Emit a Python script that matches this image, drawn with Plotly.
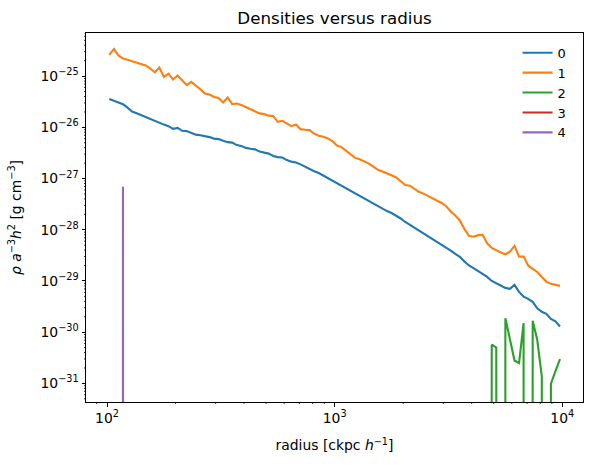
import plotly.graph_objects as go

# Radius bin centres [ckpc/h]
radius = [102.3, 107.2, 112.2, 117.5, 123.0, 128.8, 134.9, 141.3, 147.9, 154.9,
          162.2, 169.8, 177.8, 186.2, 195.0, 204.2, 213.8, 223.9, 234.4, 245.5,
          257.0, 269.2, 281.8, 295.1, 309.0, 323.6, 338.8, 354.8, 371.5, 389.0,
          407.4, 426.6, 446.7, 467.7, 489.8, 512.9, 537.0, 562.3, 588.8, 616.6,
          645.7, 676.1, 707.9, 741.3, 776.2, 812.8, 851.1, 891.3, 933.3, 977.2,
          1023, 1072, 1122, 1175, 1230, 1288, 1349, 1413, 1479, 1549,
          1622, 1698, 1778, 1862, 1950, 2042, 2138, 2239, 2344, 2455,
          2570, 2692, 2818, 2951, 3090, 3236, 3388, 3548, 3715, 3890,
          4074, 4266, 4467, 4677, 4898, 5129, 5370, 5623, 5888, 6166,
          6457, 6761, 7079, 7413, 7762, 8128, 8511, 8913, 9333, 9772]

dens0 = [3.58e-26, 3.30e-26, 3.03e-26, 2.83e-26, 2.42e-26, 2.04e-26, 1.89e-26, 1.73e-26, 1.58e-26, 1.42e-26,
         1.32e-26, 1.22e-26, 1.13e-26, 1.055e-26, 9.35e-27, 9.77e-27, 8.55e-27, 8.43e-27, 7.70e-27, 7.20e-27,
         6.98e-27, 6.80e-27, 6.44e-27, 6.02e-27, 5.89e-27, 5.45e-27, 5.14e-27, 5.03e-27, 4.50e-27, 4.34e-27,
         3.97e-27, 3.81e-27, 3.71e-27, 3.36e-27, 3.24e-27, 3.07e-27, 2.77e-27, 2.62e-27, 2.57e-27, 2.29e-27,
         2.14e-27, 2.05e-27, 1.89e-27, 1.69e-27, 1.53e-27, 1.39e-27, 1.28e-27, 1.14e-27, 1.02e-27, 9.22e-28,
         8.17e-28, 7.14e-28, 6.38e-28, 5.73e-28, 5.14e-28, 4.64e-28, 4.07e-28, 3.67e-28, 3.23e-28, 2.85e-28,
         2.54e-28, 2.32e-28, 2.12e-28, 1.90e-28, 1.66e-28, 1.42e-28, 1.25e-28, 1.11e-28, 9.56e-29, 8.28e-29,
         7.40e-29, 6.47e-29, 5.86e-29, 5.17e-29, 4.42e-29, 3.91e-29, 3.38e-29, 2.95e-29, 2.41e-29, 2.01e-29,
         1.78e-29, 1.57e-29, 1.37e-29, 1.20e-29, 1.00e-29, 8.98e-30, 8.02e-30, 7.33e-30, 7.01e-30, 8.39e-30,
         6.13e-30, 4.96e-30, 4.48e-30, 3.91e-30, 2.92e-30, 2.50e-30, 2.28e-30, 1.82e-30, 1.63e-30, 1.29e-30]

dens1 = [2.61e-25, 3.39e-25, 2.53e-25, 2.20e-25, 2.09e-25, 1.97e-25, 1.81e-25, 1.69e-25, 1.62e-25, 1.41e-25,
         1.19e-25, 1.47e-25, 9.65e-26, 1.12e-25, 8.58e-26, 1.03e-25, 8.13e-26, 6.65e-26, 7.70e-26, 6.65e-26,
         5.55e-26, 4.58e-26, 4.38e-26, 3.91e-26, 3.74e-26, 3.06e-26, 3.83e-26, 2.83e-26, 2.92e-26, 2.73e-26,
         2.48e-26, 2.31e-26, 2.12e-26, 1.87e-26, 1.81e-26, 1.69e-26, 1.67e-26, 1.28e-26, 1.34e-26, 1.21e-26,
         1.055e-26, 1.14e-26, 9.22e-27, 8.98e-27, 8.82e-27, 7.54e-27, 6.86e-27, 6.53e-27, 6.07e-27, 5.38e-27,
         4.40e-27, 4.11e-27, 3.51e-27, 2.94e-27, 2.53e-27, 2.38e-27, 2.16e-27, 1.96e-27, 1.71e-27, 1.48e-27,
         1.37e-27, 1.27e-27, 1.16e-27, 1.05e-27, 8.74e-28, 7.47e-28, 7.24e-28, 6.24e-28, 5.50e-28, 5.08e-28,
         4.60e-28, 4.13e-28, 3.78e-28, 3.33e-28, 2.88e-28, 2.27e-28, 1.90e-28, 1.52e-28, 1.04e-28, 7.64e-29,
         7.33e-29, 7.85e-29, 7.99e-29, 5.45e-29, 4.42e-29, 3.95e-29, 3.61e-29, 3.33e-29, 3.72e-29, 4.83e-29,
         2.99e-29, 2.99e-29, 2.01e-29, 1.72e-29, 1.50e-29, 1.20e-29, 9.73e-30, 8.78e-30, 8.28e-30, 8.02e-30]

dens2 = [0.0] * 84 + [5.7e-31, 5.0e-31, 0.0, 1.88e-30, 7.3e-31, 2.8e-31, 2.5e-31, 1.5e-30,
                      0.0, 1.67e-30, 7.1e-31, 1.37e-31, 0.0, 9.9e-32, 1.74e-31, 2.99e-31]

dens3 = [0.0] * 100

dens4 = [0.0] * 3 + [6.92e-28] + [0.0] * 96

series_names = ["0", "1", "2", "3", "4"]
series_vals = [dens0, dens1, dens2, dens3, dens4]
colors = ["#1f77b4", "#ff7f0e", "#2ca02c", "#d62728", "#9467bd"]

x_ticks = [1e2, 1e3, 1e4]
x_ticktext = ["10<sup>2</sup>", "10<sup>3</sup>", "10<sup>4</sup>"]
y_ticks = [1e-31, 1e-30, 1e-29, 1e-28, 1e-27, 1e-26, 1e-25]
y_ticktext = ["10<sup>\u221231</sup>", "10<sup>\u221230</sup>", "10<sup>\u221229</sup>",
              "10<sup>\u221228</sup>", "10<sup>\u221227</sup>", "10<sup>\u221226</sup>",
              "10<sup>\u221225</sup>"]

# minor tick positions (2..9 x each decade)
x_minor = [m * d for d in (1e1, 1e2, 1e3, 1e4) for m in range(2, 10)]
y_minor = [m * d for d in (1e-32, 1e-31, 1e-30, 1e-29, 1e-28, 1e-27, 1e-26, 1e-25) for m in range(2, 10)]

X_RANGE = [1.9076, 4.091]
Y_RANGE = [-31.363, -24.158]

W, H = 592, 467
ML, MR, MT, MB = 86, 9, 33, 65
PLOT_W = W - ML - MR
PLOT_H = H - MT - MB
MINOR_LEN = 2.0


def clip_nonpositive(vals):
    # mimic log-scale clipping of non-positive values (drawn off the bottom)
    return [v if v > 0 else 1e-300 for v in vals]


fig = go.Figure()
for name, vals, c in zip(series_names, series_vals, colors):
    fig.add_trace(go.Scatter(x=radius, y=clip_nonpositive(vals), mode="lines", name=name,
                             line=dict(color=c, width=2.1)))

# minor tick marks drawn as short shapes outside the plot frame
tick_line = dict(color="black", width=0.8)
for v in x_minor:
    fig.add_shape(type="line", xref="x", yref="paper", x0=v, x1=v,
                  y0=0, y1=-MINOR_LEN / PLOT_H, line=tick_line, layer="above")
for v in y_minor:
    fig.add_shape(type="line", xref="paper", yref="y", y0=v, y1=v,
                  x0=0, x1=-MINOR_LEN / PLOT_W, line=tick_line, layer="above")

font = "DejaVu Sans, Verdana, sans-serif"
axis_common = dict(
    showline=True, linecolor="black", linewidth=1, mirror=True,
    ticks="outside", ticklen=3.5, tickwidth=1, tickcolor="black",
    showgrid=False, zeroline=False,
    tickfont=dict(family=font, size=13.9, color="black"),
)

fig.update_layout(
    width=W, height=H,
    margin=dict(l=ML, r=MR, t=MT, b=MB),
    paper_bgcolor="white", plot_bgcolor="white",
    font=dict(family=font, size=13.9, color="black"),
    title=dict(text="Densities versus radius", x=0.5 * (ML + W - MR) / W, xanchor="center",
               y=1 - 18 / H, yanchor="middle",
               font=dict(family=font, size=16.7, color="black")),
    showlegend=True,
    legend=dict(x=0.977, xanchor="right", y=0.987, yanchor="top",
                bgcolor="rgba(0,0,0,0)", borderwidth=0,
                font=dict(family=font, size=13, color="black"),
                tracegroupgap=0),
    xaxis=dict(type="log", range=X_RANGE,
               tickmode="array", tickvals=x_ticks, ticktext=x_ticktext,
               title=dict(text="radius [ckpc <i>h</i><sup>\u22121</sup>]",
                          font=dict(family=font, size=13.9, color="black")),
               **axis_common),
    yaxis=dict(type="log", range=Y_RANGE,
               tickmode="array", tickvals=y_ticks, ticktext=y_ticktext,
               title=dict(text="<i>\u03c1</i> <i>a</i><sup>\u22123</sup><i>h</i><sup>2</sup> [g cm<sup>\u22123</sup>]",
                          font=dict(family=font, size=13.9, color="black")),
               **axis_common),
)

fig.write_html("out.html")
